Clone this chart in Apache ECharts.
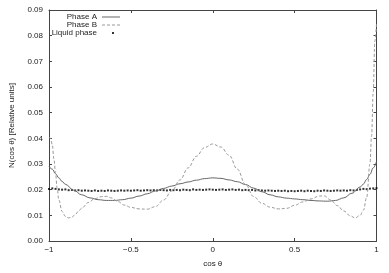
<!DOCTYPE html>
<html>
<head>
<meta charset="utf-8">
<script src="https://cdn.jsdelivr.net/npm/echarts@6/dist/echarts.min.js"></script>
<style>html,body{margin:0;padding:0;background:#fff}#c{width:389px;height:273px}</style>
</head>
<body>
<div id="c"></div>
<script>
var xTicks = [-1, -0.5, 0, 0.5, 1];
var yTickLabels = ['0.00','0.01','0.02','0.03','0.04','0.05','0.06','0.07','0.08','0.09'];

var phaseAX = [-1.00,-0.98,-0.96,-0.94,-0.92,-0.90,-0.85,-0.80,-0.75,-0.70,-0.65,-0.60,-0.55,-0.50,-0.45,-0.40,-0.35,-0.30,-0.25,-0.20,-0.15,-0.10,-0.05,0.00,0.05,0.10,0.15,0.20,0.25,0.30,0.35,0.40,0.45,0.50,0.55,0.60,0.65,0.70,0.75,0.80,0.85,0.90,0.92,0.94,0.96,0.98,1.00];
var phaseAY = [0.0290,0.0280,0.0262,0.0246,0.0232,0.0221,0.0198,0.0180,0.0168,0.0161,0.0158,0.0158,0.0161,0.0167,0.0175,0.0184,0.0195,0.0205,0.0214,0.0223,0.0230,0.0237,0.0243,0.0246,0.0244,0.0238,0.0231,0.0220,0.0206,0.0192,0.0180,0.0172,0.0167,0.0164,0.0161,0.0158,0.0156,0.0155,0.0158,0.0168,0.0186,0.0210,0.0222,0.0240,0.0260,0.0285,0.0310];

var phaseBX = [-1.00,-0.99,-0.98,-0.97,-0.96,-0.95,-0.94,-0.92,-0.90,-0.88,-0.86,-0.84,-0.82,-0.80,-0.76,-0.72,-0.68,-0.65,-0.62,-0.58,-0.54,-0.50,-0.45,-0.40,-0.35,-0.30,-0.25,-0.20,-0.15,-0.10,-0.05,0.00,0.05,0.10,0.15,0.20,0.25,0.30,0.35,0.40,0.45,0.50,0.55,0.60,0.65,0.68,0.72,0.76,0.80,0.84,0.87,0.90,0.92,0.94,0.96,0.97,0.98,0.99,1.00];
var phaseBY = [0.0405,0.0400,0.0375,0.0320,0.0262,0.0205,0.0160,0.0115,0.0096,0.0090,0.0093,0.0103,0.0116,0.0128,0.0150,0.0165,0.0173,0.0174,0.0168,0.0154,0.0140,0.0131,0.0125,0.0124,0.0134,0.0160,0.0195,0.0238,0.0285,0.0330,0.0364,0.0378,0.0366,0.0334,0.0280,0.0220,0.0173,0.0147,0.0132,0.0125,0.0127,0.0139,0.0152,0.0164,0.0175,0.0176,0.0160,0.0138,0.0117,0.0098,0.0090,0.0100,0.0120,0.0170,0.0300,0.0410,0.0580,0.0780,0.0845];

var liquidX = [-1.00,-0.98,-0.96,-0.94,-0.92,-0.90,-0.88,-0.86,-0.84,-0.82,-0.80,-0.78,-0.76,-0.74,-0.72,-0.70,-0.68,-0.66,-0.64,-0.62,-0.60,-0.58,-0.56,-0.54,-0.52,-0.50,-0.48,-0.46,-0.44,-0.42,-0.40,-0.38,-0.36,-0.34,-0.32,-0.30,-0.28,-0.26,-0.24,-0.22,-0.20,-0.18,-0.16,-0.14,-0.12,-0.10,-0.08,-0.06,-0.04,-0.02,0.00,0.02,0.04,0.06,0.08,0.10,0.12,0.14,0.16,0.18,0.20,0.22,0.24,0.26,0.28,0.30,0.32,0.34,0.36,0.38,0.40,0.42,0.44,0.46,0.48,0.50,0.52,0.54,0.56,0.58,0.60,0.62,0.64,0.66,0.68,0.70,0.72,0.74,0.76,0.78,0.80,0.82,0.84,0.86,0.88,0.90,0.92,0.94,0.96,0.98,1.00];
var liquidY = [0.0203,0.0205,0.0203,0.0201,0.0200,0.0201,0.0198,0.0199,0.0197,0.0198,0.0196,0.0197,0.0196,0.0195,0.0197,0.0195,0.0196,0.0195,0.0197,0.0196,0.0195,0.0196,0.0197,0.0196,0.0197,0.0196,0.0197,0.0198,0.0196,0.0197,0.0198,0.0197,0.0198,0.0197,0.0199,0.0198,0.0197,0.0199,0.0198,0.0199,0.0198,0.0200,0.0199,0.0198,0.0201,0.0199,0.0200,0.0199,0.0200,0.0201,0.0200,0.0199,0.0200,0.0201,0.0199,0.0200,0.0201,0.0199,0.0200,0.0198,0.0199,0.0198,0.0199,0.0197,0.0198,0.0197,0.0196,0.0197,0.0196,0.0195,0.0196,0.0195,0.0196,0.0194,0.0195,0.0194,0.0195,0.0196,0.0194,0.0196,0.0195,0.0194,0.0196,0.0195,0.0197,0.0196,0.0195,0.0196,0.0197,0.0196,0.0197,0.0196,0.0198,0.0197,0.0199,0.0201,0.0203,0.0202,0.0204,0.0205,0.0206];

function zip(xs, ys){ return xs.map(function(x,i){ return [x, ys[i]]; }); }

var FONT = 'Liberation Sans';
var TXT = '#222';
var AX = '#444';

var chart = echarts.init(document.getElementById('c'), null, {renderer:'canvas'});

function legend(name, top, icon){
  return {
    show: true, orient: 'vertical', right: 269, top: top,
    align: 'right', itemWidth: 18, itemHeight: 6, itemGap: 0, padding: 0,
    textStyle: {fontFamily: FONT, fontSize: 8, color: TXT},
    data: [{name: name, icon: icon}]
  };
}

chart.setOption({
  animation: false,
  backgroundColor: '#fff',
  legend: [
    legend('Phase A', 13, 'path://M0,0M18,6M0,2.5h18v1h-18z'),
    legend('Phase B', 21, 'path://M0,0M18,6M0,2.5h3v1h-3zM5,2.5h3v1h-3zM10,2.5h3v1h-3zM15,2.5h3v1h-3z'),
    legend('Liquid phase', 29, 'path://M0,0M18,6M10,2h2v2h-2z')
  ],
  grid: {left: 39, right: 12.5, top: 10, bottom: 24},
  xAxis: [{
    type: 'value', min: -1, max: 1, interval: 0.5,
    name: 'cos θ', nameLocation: 'middle', nameGap: 19,
    nameTextStyle: {fontFamily: FONT, fontSize: 8, color: TXT},
    axisLine: {show: true, onZero: false, lineStyle: {color: AX, width: 1}},
    axisTick: {show: true, inside: true, length: 3, lineStyle: {color: AX}},
    axisLabel: {fontFamily: FONT, fontSize: 8, color: TXT, margin: 5,
      formatter: function(v){ return String(v).replace('-', '\u2212'); }},
    splitLine: {show: false}
  },{
    type: 'value', min: -1, max: 1, interval: 0.5, position: 'top',
    axisLine: {show: true, onZero: false, lineStyle: {color: AX, width: 1}},
    axisTick: {show: true, inside: true, length: 3, lineStyle: {color: AX}},
    axisLabel: {show: false}, splitLine: {show: false}
  }],
  yAxis: [{
    type: 'value', min: 0, max: 0.09, interval: 0.01,
    name: 'N(cos θ) [Relative units]', nameLocation: 'middle', nameGap: 33,
    nameTextStyle: {fontFamily: FONT, fontSize: 8, color: TXT},
    axisLine: {show: true, onZero: false, lineStyle: {color: AX, width: 1}},
    axisTick: {show: true, inside: true, length: 3, lineStyle: {color: AX}},
    axisLabel: {fontFamily: FONT, fontSize: 8, color: TXT, margin: 6,
      formatter: function(v){ return yTickLabels[Math.round(v*100)]; }},
    splitLine: {show: false}
  },{
    type: 'value', min: 0, max: 0.09, interval: 0.01, position: 'right',
    axisLine: {show: true, onZero: false, lineStyle: {color: AX, width: 1}},
    axisTick: {show: true, inside: true, length: 3, lineStyle: {color: AX}},
    axisLabel: {show: false}, splitLine: {show: false}
  }],
  series: [{
    name: 'Phase A', type: 'line', data: zip(phaseAX, phaseAY),
    symbol: 'none', smooth: 0.4, smoothMonotone: 'x',
    lineStyle: {color: '#666', width: 1}, itemStyle: {color: '#666'}
  },{
    name: 'Phase B', type: 'line', data: zip(phaseBX, phaseBY),
    symbol: 'none', smooth: 0.4, smoothMonotone: 'x',
    lineStyle: {color: '#999', width: 1, type: [3,2]}, itemStyle: {color: '#999'}
  },{
    name: 'Liquid phase', type: 'scatter', data: zip(liquidX, liquidY),
    symbol: 'rect', symbolSize: 2,
    itemStyle: {color: '#000'}
  }]
});
</script>
</body>
</html>
